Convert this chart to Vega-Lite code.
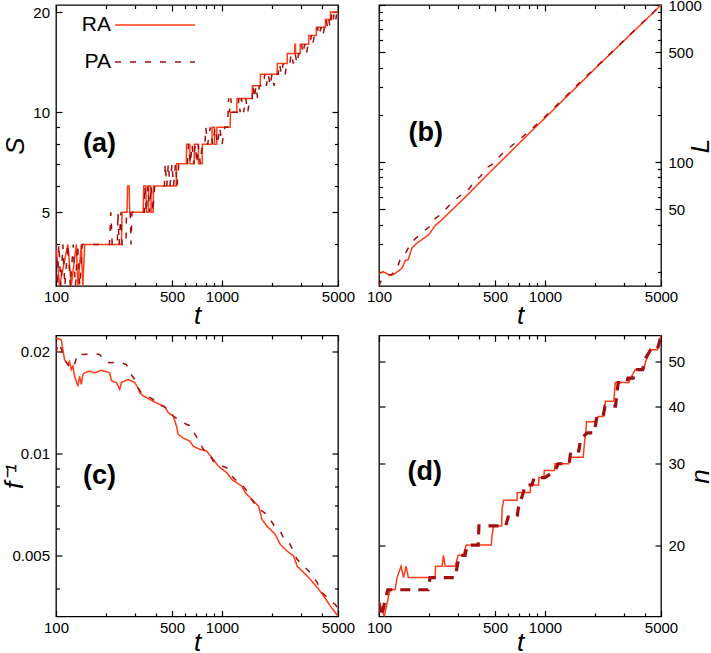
{
  "$schema": "https://vega.github.io/schema/vega-lite/v6.json",
  "background": "white",
  "padding": {"left": 0, "top": -3, "right": 0, "bottom": 0},
  "columns": 2,
  "spacing": {"row": 49.5, "column": 41},
  "bounds": "flush",
  "resolve": {"scale": {"x": "independent", "y": "independent", "color": "independent", "strokeDash": "independent", "strokeWidth": "independent"}, "legend": {"color": "independent", "strokeDash": "independent"}},
  "config": {
    "font": "Liberation Sans",
    "view": {"stroke": "black", "strokeWidth": 1.3},
    "axis": {"domain": false, "grid": false, "tickColor": "black", "tickWidth": 1.2, "labelColor": "black", "labelFontSize": 15, "labelFont": "Liberation Sans", "titleFont": "Liberation Sans", "titleFontSize": 26, "titleFontStyle": "italic", "titleFontWeight": "normal", "titleColor": "black", "labelFlush": false, "labelOverlap": false},
    "title": {"font": "Liberation Sans", "fontSize": 27, "fontWeight": "bold", "color": "black", "anchor": "start", "frame": "group", "offset": 0, "baseline": "middle"}
  },
  "datasets": {
    "a": [
      {"t":100,"v":4,"m":"RA"},{"t":105,"v":3,"m":"RA"},{"t":117.8,"v":4,"m":"RA"},{"t":123.6,"v":3,"m":"RA"},{"t":132.5,"v":4,"m":"RA"},{"t":135.5,"v":3,"m":"RA"},{"t":142,"v":4,"m":"RA"},{"t":145,"v":3,"m":"RA"},{"t":149,"v":4,"m":"RA"},{"t":248,"v":4,"m":"RA"},{"t":250,"v":5,"m":"RA"},{"t":268,"v":5,"m":"RA"},{"t":270,"v":6,"m":"RA"},{"t":276,"v":6,"m":"RA"},{"t":278,"v":5,"m":"RA"},{"t":335,"v":5,"m":"RA"},{"t":338,"v":6,"m":"RA"},{"t":348,"v":6,"m":"RA"},{"t":350,"v":5,"m":"RA"},{"t":360,"v":5,"m":"RA"},{"t":362,"v":6,"m":"RA"},{"t":372,"v":6,"m":"RA"},{"t":374,"v":5,"m":"RA"},{"t":385,"v":5,"m":"RA"},{"t":387,"v":6,"m":"RA"},{"t":530,"v":6,"m":"RA"},{"t":533,"v":7,"m":"RA"},{"t":610,"v":7,"m":"RA"},{"t":612,"v":8,"m":"RA"},{"t":640,"v":8,"m":"RA"},{"t":642,"v":7,"m":"RA"},{"t":680,"v":7,"m":"RA"},{"t":682,"v":8,"m":"RA"},{"t":720,"v":8,"m":"RA"},{"t":722,"v":7,"m":"RA"},{"t":760,"v":7,"m":"RA"},{"t":762,"v":8,"m":"RA"},{"t":870,"v":8,"m":"RA"},{"t":872,"v":9,"m":"RA"},{"t":900,"v":9,"m":"RA"},{"t":902,"v":8,"m":"RA"},{"t":930,"v":8,"m":"RA"},{"t":932,"v":9,"m":"RA"},{"t":1120,"v":9,"m":"RA"},{"t":1125,"v":10,"m":"RA"},{"t":1228,"v":10,"m":"RA"},{"t":1232,"v":11,"m":"RA"},{"t":1520,"v":11,"m":"RA"},{"t":1525,"v":12,"m":"RA"},{"t":1700,"v":12,"m":"RA"},{"t":1705,"v":13,"m":"RA"},{"t":2150,"v":13,"m":"RA"},{"t":2155,"v":14,"m":"RA"},{"t":2470,"v":14,"m":"RA"},{"t":2475,"v":15,"m":"RA"},{"t":2740,"v":15,"m":"RA"},{"t":2750,"v":16,"m":"RA"},{"t":2770,"v":16,"m":"RA"},{"t":2780,"v":15,"m":"RA"},{"t":2960,"v":15,"m":"RA"},{"t":2965,"v":16,"m":"RA"},{"t":3330,"v":16,"m":"RA"},{"t":3335,"v":17,"m":"RA"},{"t":3700,"v":17,"m":"RA"},{"t":3705,"v":18,"m":"RA"},{"t":4196,"v":18,"m":"RA"},{"t":4200,"v":19,"m":"RA"},{"t":4499,"v":19,"m":"RA"},{"t":4505,"v":20,"m":"RA"},{"t":5000,"v":20,"m":"RA"},
      {"t":100,"v":4,"m":"PA"},{"t":102,"v":3,"m":"PA"},{"t":104,"v":4,"m":"PA"},{"t":107,"v":3,"m":"PA"},{"t":110,"v":4,"m":"PA"},{"t":113,"v":3,"m":"PA"},{"t":118,"v":4,"m":"PA"},{"t":122,"v":3,"m":"PA"},{"t":127,"v":4,"m":"PA"},{"t":131,"v":3,"m":"PA"},{"t":135,"v":4,"m":"PA"},{"t":139,"v":3,"m":"PA"},{"t":144,"v":4,"m":"PA"},{"t":210,"v":4,"m":"PA"},{"t":214,"v":5,"m":"PA"},{"t":218,"v":4,"m":"PA"},{"t":234,"v":4,"m":"PA"},{"t":236,"v":5,"m":"PA"},{"t":240,"v":4,"m":"PA"},{"t":246,"v":5,"m":"PA"},{"t":250,"v":4,"m":"PA"},{"t":264,"v":4,"m":"PA"},{"t":266,"v":5,"m":"PA"},{"t":280,"v":5,"m":"PA"},{"t":283,"v":4,"m":"PA"},{"t":287,"v":5,"m":"PA"},{"t":340,"v":5,"m":"PA"},{"t":343,"v":6,"m":"PA"},{"t":350,"v":5,"m":"PA"},{"t":358,"v":6,"m":"PA"},{"t":366,"v":5,"m":"PA"},{"t":375,"v":6,"m":"PA"},{"t":383,"v":5,"m":"PA"},{"t":393,"v":6,"m":"PA"},{"t":450,"v":6,"m":"PA"},{"t":455,"v":7,"m":"PA"},{"t":465,"v":6,"m":"PA"},{"t":475,"v":7,"m":"PA"},{"t":486,"v":6,"m":"PA"},{"t":500,"v":7,"m":"PA"},{"t":511,"v":6,"m":"PA"},{"t":525,"v":7,"m":"PA"},{"t":536,"v":6,"m":"PA"},{"t":550,"v":7,"m":"PA"},{"t":620,"v":7,"m":"PA"},{"t":628,"v":8,"m":"PA"},{"t":645,"v":7,"m":"PA"},{"t":660,"v":8,"m":"PA"},{"t":676,"v":7,"m":"PA"},{"t":690,"v":8,"m":"PA"},{"t":706,"v":7,"m":"PA"},{"t":720,"v":8,"m":"PA"},{"t":740,"v":7,"m":"PA"},{"t":760,"v":8,"m":"PA"},{"t":790,"v":8,"m":"PA"},{"t":798,"v":9,"m":"PA"},{"t":820,"v":8,"m":"PA"},{"t":850,"v":9,"m":"PA"},{"t":880,"v":8,"m":"PA"},{"t":910,"v":9,"m":"PA"},{"t":940,"v":8,"m":"PA"},{"t":970,"v":9,"m":"PA"},{"t":1000,"v":8,"m":"PA"},{"t":1040,"v":9,"m":"PA"},{"t":1080,"v":9,"m":"PA"},{"t":1095,"v":11,"m":"PA"},{"t":1110,"v":10,"m":"PA"},{"t":1130,"v":11,"m":"PA"},{"t":1150,"v":10,"m":"PA"},{"t":1250,"v":10,"m":"PA"},{"t":1262,"v":11,"m":"PA"},{"t":1285,"v":10,"m":"PA"},{"t":1310,"v":11,"m":"PA"},{"t":1350,"v":10,"m":"PA"},{"t":1390,"v":11,"m":"PA"},{"t":1430,"v":10,"m":"PA"},{"t":1470,"v":11,"m":"PA"},{"t":1520,"v":11,"m":"PA"},{"t":1540,"v":12,"m":"PA"},{"t":1570,"v":11,"m":"PA"},{"t":1600,"v":12,"m":"PA"},{"t":1640,"v":11,"m":"PA"},{"t":1680,"v":12,"m":"PA"},{"t":1780,"v":12,"m":"PA"},{"t":1810,"v":13,"m":"PA"},{"t":1850,"v":12,"m":"PA"},{"t":1900,"v":13,"m":"PA"},{"t":1950,"v":12,"m":"PA"},{"t":2000,"v":13,"m":"PA"},{"t":2060,"v":12,"m":"PA"},{"t":2120,"v":13,"m":"PA"},{"t":2180,"v":13,"m":"PA"},{"t":2220,"v":14,"m":"PA"},{"t":2280,"v":13,"m":"PA"},{"t":2340,"v":14,"m":"PA"},{"t":2400,"v":13,"m":"PA"},{"t":2460,"v":14,"m":"PA"},{"t":2560,"v":14,"m":"PA"},{"t":2620,"v":15,"m":"PA"},{"t":2690,"v":14,"m":"PA"},{"t":2760,"v":15,"m":"PA"},{"t":2830,"v":14,"m":"PA"},{"t":2900,"v":15,"m":"PA"},{"t":2960,"v":15,"m":"PA"},{"t":3020,"v":16,"m":"PA"},{"t":3080,"v":15,"m":"PA"},{"t":3150,"v":16,"m":"PA"},{"t":3230,"v":15,"m":"PA"},{"t":3300,"v":16,"m":"PA"},{"t":3400,"v":16,"m":"PA"},{"t":3450,"v":17,"m":"PA"},{"t":3520,"v":16,"m":"PA"},{"t":3600,"v":17,"m":"PA"},{"t":3700,"v":17,"m":"PA"},{"t":3760,"v":18,"m":"PA"},{"t":3850,"v":17,"m":"PA"},{"t":3950,"v":18,"m":"PA"},{"t":4050,"v":17,"m":"PA"},{"t":4150,"v":18,"m":"PA"},{"t":4250,"v":19,"m":"PA"},{"t":4320,"v":18,"m":"PA"},{"t":4400,"v":19,"m":"PA"},{"t":4480,"v":18,"m":"PA"},{"t":4550,"v":19,"m":"PA"},{"t":4600,"v":20,"m":"PA"},{"t":4680,"v":19,"m":"PA"},{"t":4760,"v":20,"m":"PA"},{"t":4850,"v":19,"m":"PA"},{"t":4930,"v":20,"m":"PA"},{"t":5000,"v":20,"m":"PA"}
    ],
    "b": [
      {"t":100,"v":19.5,"m":"RA"},{"t":106,"v":20.1,"m":"RA"},{"t":114,"v":19.3,"m":"RA"},{"t":119,"v":19.0,"m":"RA"},{"t":126,"v":19.7,"m":"RA"},{"t":134,"v":20.7,"m":"RA"},{"t":138,"v":21.3,"m":"RA"},{"t":144,"v":23.7,"m":"RA"},{"t":150,"v":24,"m":"RA"},{"t":158,"v":28.5,"m":"RA"},{"t":169,"v":30.5,"m":"RA"},{"t":199,"v":34.5,"m":"RA"},{"t":218,"v":39.5,"m":"RA"},{"t":239,"v":43,"m":"RA"},{"t":288,"v":52,"m":"RA"},{"t":347,"v":63,"m":"RA"},{"t":418,"v":77,"m":"RA"},{"t":500,"v":93,"m":"RA"},{"t":634,"v":119,"m":"RA"},{"t":800,"v":152,"m":"RA"},{"t":1000,"v":191,"m":"RA"},{"t":1300,"v":251,"m":"RA"},{"t":1600,"v":311,"m":"RA"},{"t":2000,"v":393,"m":"RA"},{"t":2500,"v":493,"m":"RA"},{"t":3000,"v":593,"m":"RA"},{"t":3500,"v":695,"m":"RA"},{"t":4000,"v":795,"m":"RA"},{"t":4500,"v":897,"m":"RA"},{"t":5000,"v":1000,"m":"RA"},
      {"t":100,"v":16.3,"m":"PA"},{"t":101.4,"v":17.1,"m":"PA"},{"t":106,"v":18.4,"m":"PA"},{"t":113,"v":19.2,"m":"PA"},{"t":119,"v":19.3,"m":"PA"},{"t":128,"v":20.7,"m":"PA"},{"t":134,"v":24,"m":"PA"},{"t":144,"v":26.2,"m":"PA"},{"t":154,"v":29.9,"m":"PA"},{"t":165,"v":32.5,"m":"PA"},{"t":185,"v":36.3,"m":"PA"},{"t":203,"v":39.1,"m":"PA"},{"t":218,"v":43.8,"m":"PA"},{"t":239,"v":47,"m":"PA"},{"t":262,"v":52.5,"m":"PA"},{"t":281,"v":56.5,"m":"PA"},{"t":316,"v":62.5,"m":"PA"},{"t":339,"v":65.3,"m":"PA"},{"t":381,"v":76.5,"m":"PA"},{"t":408,"v":81,"m":"PA"},{"t":447,"v":92.5,"m":"PA"},{"t":480,"v":96.7,"m":"PA"},{"t":538,"v":110,"m":"PA"},{"t":565,"v":116,"m":"PA"},{"t":700,"v":139,"m":"PA"},{"t":850,"v":166,"m":"PA"},{"t":1000,"v":195,"m":"PA"},{"t":1300,"v":255,"m":"PA"},{"t":1600,"v":318,"m":"PA"},{"t":2000,"v":397,"m":"PA"},{"t":2500,"v":497,"m":"PA"},{"t":3000,"v":597,"m":"PA"},{"t":4000,"v":798,"m":"PA"},{"t":5000,"v":1000,"m":"PA"}
    ],
    "c": [
      {"t":100,"v":0.0219,"m":"RA"},{"t":107.5,"v":0.0217,"m":"RA"},{"t":112.6,"v":0.0189,"m":"RA"},{"t":117.9,"v":0.0183,"m":"RA"},{"t":120.6,"v":0.0187,"m":"RA"},{"t":123.6,"v":0.0177,"m":"RA"},{"t":126.4,"v":0.0181,"m":"RA"},{"t":129.4,"v":0.0169,"m":"RA"},{"t":135.5,"v":0.0158,"m":"RA"},{"t":138.7,"v":0.0169,"m":"RA"},{"t":142,"v":0.016,"m":"RA"},{"t":145.2,"v":0.0171,"m":"RA"},{"t":148.7,"v":0.0173,"m":"RA"},{"t":159.4,"v":0.0175,"m":"RA"},{"t":170.9,"v":0.0173,"m":"RA"},{"t":187.6,"v":0.0176,"m":"RA"},{"t":196.4,"v":0.0175,"m":"RA"},{"t":210.6,"v":0.0173,"m":"RA"},{"t":215.7,"v":0.0164,"m":"RA"},{"t":231.2,"v":0.0162,"m":"RA"},{"t":242,"v":0.01545,"m":"RA"},{"t":247.9,"v":0.0162,"m":"RA"},{"t":271.7,"v":0.01654,"m":"RA"},{"t":298.2,"v":0.0162,"m":"RA"},{"t":312.3,"v":0.0156,"m":"RA"},{"t":319.7,"v":0.0151,"m":"RA"},{"t":334.8,"v":0.0148,"m":"RA"},{"t":367.5,"v":0.01444,"m":"RA"},{"t":403.5,"v":0.0141,"m":"RA"},{"t":452.8,"v":0.01374,"m":"RA"},{"t":474.2,"v":0.0132,"m":"RA"},{"t":508.5,"v":0.0129,"m":"RA"},{"t":533,"v":0.012,"m":"RA"},{"t":545,"v":0.01138,"m":"RA"},{"t":584,"v":0.0111,"m":"RA"},{"t":641,"v":0.01087,"m":"RA"},{"t":671.5,"v":0.0105,"m":"RA"},{"t":737,"v":0.01028,"m":"RA"},{"t":809,"v":0.01016,"m":"RA"},{"t":887,"v":0.0096,"m":"RA"},{"t":951,"v":0.00917,"m":"RA"},{"t":1069,"v":0.00877,"m":"RA"},{"t":1146,"v":0.00838,"m":"RA"},{"t":1317,"v":0.00801,"m":"RA"},{"t":1378,"v":0.00766,"m":"RA"},{"t":1515,"v":0.00732,"m":"RA"},{"t":1660,"v":0.00699,"m":"RA"},{"t":1740,"v":0.00639,"m":"RA"},{"t":1866,"v":0.0061,"m":"RA"},{"t":2093,"v":0.00577,"m":"RA"},{"t":2243,"v":0.00539,"m":"RA"},{"t":2465,"v":0.00515,"m":"RA"},{"t":2702,"v":0.00498,"m":"RA"},{"t":2833,"v":0.00465,"m":"RA"},{"t":3105,"v":0.00445,"m":"RA"},{"t":3406,"v":0.00425,"m":"RA"},{"t":3827,"v":0.00397,"m":"RA"},{"t":4104,"v":0.00379,"m":"RA"},{"t":4499,"v":0.00354,"m":"RA"},{"t":5000,"v":0.00331,"m":"RA"},
      {"t":100,"v":0.0198,"m":"PA"},{"t":103,"v":0.0212,"m":"PA"},{"t":107,"v":0.0205,"m":"PA"},{"t":112,"v":0.019,"m":"PA"},{"t":118,"v":0.0183,"m":"PA"},{"t":124,"v":0.0178,"m":"PA"},{"t":130,"v":0.0185,"m":"PA"},{"t":135.5,"v":0.01973,"m":"PA"},{"t":145.2,"v":0.0196,"m":"PA"},{"t":170.9,"v":0.0197,"m":"PA"},{"t":183.2,"v":0.0196,"m":"PA"},{"t":196.4,"v":0.01873,"m":"PA"},{"t":210.6,"v":0.01852,"m":"PA"},{"t":242,"v":0.0186,"m":"PA"},{"t":265.7,"v":0.0183,"m":"PA"},{"t":278.2,"v":0.0173,"m":"PA"},{"t":298.2,"v":0.01654,"m":"PA"},{"t":312.3,"v":0.0156,"m":"PA"},{"t":327.4,"v":0.0151,"m":"PA"},{"t":384.8,"v":0.01444,"m":"PA"},{"t":403.5,"v":0.01396,"m":"PA"},{"t":442.2,"v":0.0138,"m":"PA"},{"t":474.2,"v":0.01349,"m":"PA"},{"t":508.5,"v":0.0129,"m":"PA"},{"t":545,"v":0.0126,"m":"PA"},{"t":612.9,"v":0.01218,"m":"PA"},{"t":656.9,"v":0.01204,"m":"PA"},{"t":687.4,"v":0.01138,"m":"PA"},{"t":720,"v":0.011,"m":"PA"},{"t":772,"v":0.01028,"m":"PA"},{"t":827.7,"v":0.01005,"m":"PA"},{"t":887,"v":0.00949,"m":"PA"},{"t":951,"v":0.00928,"m":"PA"},{"t":1069,"v":0.00907,"m":"PA"},{"t":1119,"v":0.00867,"m":"PA"},{"t":1229,"v":0.00829,"m":"PA"},{"t":1317,"v":0.0081,"m":"PA"},{"t":1413,"v":0.00774,"m":"PA"},{"t":1478,"v":0.0074,"m":"PA"},{"t":1584,"v":0.00707,"m":"PA"},{"t":1698,"v":0.00683,"m":"PA"},{"t":1866,"v":0.0066,"m":"PA"},{"t":1952,"v":0.00639,"m":"PA"},{"t":2093,"v":0.00604,"m":"PA"},{"t":2243,"v":0.0059,"m":"PA"},{"t":2405,"v":0.00551,"m":"PA"},{"t":2579,"v":0.00539,"m":"PA"},{"t":2702,"v":0.0051,"m":"PA"},{"t":2833,"v":0.00487,"m":"PA"},{"t":3105,"v":0.00465,"m":"PA"},{"t":3330,"v":0.0045,"m":"PA"},{"t":3570,"v":0.0043,"m":"PA"},{"t":3743,"v":0.00416,"m":"PA"},{"t":3914,"v":0.00392,"m":"PA"},{"t":4104,"v":0.00384,"m":"PA"},{"t":4499,"v":0.00367,"m":"PA"},{"t":4823,"v":0.00358,"m":"PA"},{"t":5000,"v":0.00347,"m":"PA"}
    ],
    "d": [
      {"t":100,"v":15,"m":"RA"},{"t":107.6,"v":14,"m":"RA"},{"t":116.5,"v":16,"m":"RA"},{"t":124.9,"v":16,"m":"RA"},{"t":128.5,"v":17,"m":"RA"},{"t":135.8,"v":18,"m":"RA"},{"t":140.6,"v":17,"m":"RA"},{"t":145.5,"v":18,"m":"RA"},{"t":150.3,"v":17,"m":"RA"},{"t":217.8,"v":17,"m":"RA"},{"t":219.4,"v":18,"m":"RA"},{"t":240.2,"v":18,"m":"RA"},{"t":244.6,"v":19,"m":"RA"},{"t":250.4,"v":18,"m":"RA"},{"t":287.7,"v":18,"m":"RA"},{"t":300,"v":19,"m":"RA"},{"t":321.6,"v":19,"m":"RA"},{"t":335.2,"v":20,"m":"RA"},{"t":475,"v":20,"m":"RA"},{"t":480,"v":21,"m":"RA"},{"t":490,"v":22,"m":"RA"},{"t":548,"v":22,"m":"RA"},{"t":552,"v":24,"m":"RA"},{"t":563,"v":25,"m":"RA"},{"t":679,"v":25,"m":"RA"},{"t":681,"v":26,"m":"RA"},{"t":816,"v":26,"m":"RA"},{"t":820,"v":27,"m":"RA"},{"t":916,"v":27,"m":"RA"},{"t":920,"v":28,"m":"RA"},{"t":985,"v":28,"m":"RA"},{"t":990,"v":29,"m":"RA"},{"t":1140,"v":29,"m":"RA"},{"t":1150,"v":30,"m":"RA"},{"t":1390,"v":30,"m":"RA"},{"t":1410,"v":31,"m":"RA"},{"t":1700,"v":31,"m":"RA"},{"t":1712,"v":32,"m":"RA"},{"t":1740,"v":34,"m":"RA"},{"t":1760,"v":35,"m":"RA"},{"t":1780,"v":37,"m":"RA"},{"t":2050,"v":37,"m":"RA"},{"t":2090,"v":38,"m":"RA"},{"t":2240,"v":38,"m":"RA"},{"t":2315,"v":41,"m":"RA"},{"t":2600,"v":41,"m":"RA"},{"t":2650,"v":45,"m":"RA"},{"t":3200,"v":45,"m":"RA"},{"t":3280,"v":46,"m":"RA"},{"t":3500,"v":48,"m":"RA"},{"t":3945,"v":48,"m":"RA"},{"t":4040,"v":50,"m":"RA"},{"t":4332,"v":53,"m":"RA"},{"t":4750,"v":53,"m":"RA"},{"t":5000,"v":57,"m":"RA"},
      {"t":100,"v":15,"m":"PA"},{"t":103.8,"v":14,"m":"PA"},{"t":108,"v":15,"m":"PA"},{"t":113,"v":16,"m":"PA"},{"t":198,"v":16,"m":"PA"},{"t":203,"v":17,"m":"PA"},{"t":288,"v":17,"m":"PA"},{"t":296,"v":18,"m":"PA"},{"t":305,"v":19,"m":"PA"},{"t":330,"v":19,"m":"PA"},{"t":340,"v":20,"m":"PA"},{"t":396,"v":20,"m":"PA"},{"t":400,"v":22,"m":"PA"},{"t":580,"v":22,"m":"PA"},{"t":600,"v":23,"m":"PA"},{"t":680,"v":23,"m":"PA"},{"t":690,"v":24,"m":"PA"},{"t":715,"v":25,"m":"PA"},{"t":740,"v":26,"m":"PA"},{"t":760,"v":27,"m":"PA"},{"t":836,"v":27,"m":"PA"},{"t":860,"v":28,"m":"PA"},{"t":1000,"v":28,"m":"PA"},{"t":1150,"v":29,"m":"PA"},{"t":1200,"v":30,"m":"PA"},{"t":1400,"v":30,"m":"PA"},{"t":1430,"v":32,"m":"PA"},{"t":1600,"v":32,"m":"PA"},{"t":1640,"v":34,"m":"PA"},{"t":1800,"v":35,"m":"PA"},{"t":1985,"v":35,"m":"PA"},{"t":2050,"v":38,"m":"PA"},{"t":2240,"v":38,"m":"PA"},{"t":2300,"v":40,"m":"PA"},{"t":2660,"v":40,"m":"PA"},{"t":2760,"v":45,"m":"PA"},{"t":3110,"v":45,"m":"PA"},{"t":3160,"v":46,"m":"PA"},{"t":3400,"v":46,"m":"PA"},{"t":3500,"v":48,"m":"PA"},{"t":3870,"v":48,"m":"PA"},{"t":3980,"v":50,"m":"PA"},{"t":4060,"v":51,"m":"PA"},{"t":4330,"v":53,"m":"PA"},{"t":4750,"v":53,"m":"PA"},{"t":4950,"v":56,"m":"PA"},{"t":5000,"v":57,"m":"PA"}
    ]
  },
  "concat": [
    {
      "width": 282, "height": 281,
      "title": {"text": "(a)", "dx": 27, "dy": 157.5},
      "data": {"name": "a"},
      "layer": [
        {
          "mark": {"type": "line", "clip": true, "strokeWidth": 1.5},
          "encoding": {
            "x": {"field": "t", "type": "quantitative", "scale": {"type": "log", "domain": [100, 5000], "nice": false},
              "axis": {"orient": "bottom", "values": [100,200,300,400,500,600,700,800,900,1000,2000,3000,4000,5000], "format": "d", "labelExpr": "indexof([100,500,1000,5000], datum.value) >= 0 ? datum.label : ''", "tickSize": {"condition": {"test": "indexof([100,500,1000,5000], datum.value) >= 0", "value": -6}, "value": -3.5}, "labelPadding": 9.5, "title": "t", "titleY": 37, "titleBaseline": "alphabetic"}},
            "y": {"field": "v", "type": "quantitative", "scale": {"type": "log", "domain": [3, 21], "nice": false},
              "axis": {"orient": "left", "values": [4,5,6,7,8,9,10,20], "format": "d", "labelExpr": "indexof([5,10,20], datum.value) >= 0 ? datum.label : ''", "tickSize": {"condition": {"test": "indexof([5,10,20], datum.value) >= 0", "value": -6}, "value": -3.5}, "labelPadding": 12.5, "title": "S", "titleX": -33, "titleY": 140.5, "titleAngle": -90, "titleAlign": "center", "titleBaseline": "alphabetic"}},
            "color": {"field": "m", "type": "nominal", "scale": {"domain": ["RA", "PA"], "range": ["#ff3c14", "#a10e10"]},
              "legend": {"orient": "none", "legendX": 58, "legendY": -1, "title": null, "symbolType": "M-1,0H3", "symbolSize": 1600, "symbolStrokeWidth": 1.6, "labelAlign": "right", "labelOffset": -45, "labelFontSize": 21, "labelColor": "black", "rowPadding": 6, "padding": 0}},
            "strokeDash": {"field": "m", "type": "nominal", "scale": {"domain": ["RA", "PA"], "range": [[1, 0], [6, 9]]},
              "legend": {"orient": "none", "legendX": 58, "legendY": -1, "title": null, "symbolType": "M-1,0H3", "symbolSize": 1600, "symbolStrokeWidth": 1.6, "labelAlign": "right", "labelOffset": -45, "labelFontSize": 21, "labelColor": "black", "rowPadding": 6, "padding": 0}}
          }
        },
        {
          "mark": {"type": "line", "opacity": 0, "clip": true},
          "encoding": {
            "x": {"field": "t", "type": "quantitative", "scale": {"type": "log", "domain": [100, 5000], "nice": false},
              "axis": {"orient": "top", "values": [100,200,300,400,500,600,700,800,900,1000,2000,3000,4000,5000], "labels": false, "tickSize": {"condition": {"test": "indexof([100,500,1000,5000], datum.value) >= 0", "value": -6}, "value": -3.5}, "title": null}},
            "y": {"field": "v", "type": "quantitative", "scale": {"type": "log", "domain": [3, 21], "nice": false},
              "axis": {"orient": "right", "values": [4,5,6,7,8,9,10,20], "labels": false, "tickSize": {"condition": {"test": "indexof([5,10,20], datum.value) >= 0", "value": -6}, "value": -3.5}, "title": null}},
            "detail": {"field": "m"}
          }
        }
      ],
      "resolve": {"axis": {"x": "independent", "y": "independent"}}
    },
    {
      "width": 282, "height": 281,
      "title": {"text": "(b)", "dx": 29.5, "dy": 153},
      "data": {"name": "b"},
      "layer": [
        {
          "mark": {"type": "line", "clip": true, "strokeWidth": 1.5},
          "encoding": {
            "x": {"field": "t", "type": "quantitative", "scale": {"type": "log", "domain": [100, 5000], "nice": false},
              "axis": {"orient": "bottom", "values": [100,200,300,400,500,600,700,800,900,1000,2000,3000,4000,5000], "format": "d", "labelExpr": "indexof([100,500,1000,5000], datum.value) >= 0 ? datum.label : ''", "tickSize": {"condition": {"test": "indexof([100,500,1000,5000], datum.value) >= 0", "value": -6}, "value": -3.5}, "labelPadding": 9.5, "title": "t", "titleY": 37, "titleBaseline": "alphabetic"}},
            "y": {"field": "v", "type": "quantitative", "scale": {"type": "log", "domain": [16.3, 1000], "nice": false},
              "axis": {"orient": "left", "values": [20,30,40,50,60,70,80,90,100,200,300,400,500,600,700,800,900,1000], "labels": false, "tickSize": {"condition": {"test": "indexof([50,100,500,1000], datum.value) >= 0", "value": -6}, "value": -3.5}, "title": null}},
            "color": {"field": "m", "type": "nominal", "scale": {"domain": ["RA", "PA"], "range": ["#ff3c14", "#a10e10"]}, "legend": null},
            "strokeDash": {"field": "m", "type": "nominal", "scale": {"domain": ["RA", "PA"], "range": [[1, 0], [6, 9]]}, "legend": null}
          }
        },
        {
          "mark": {"type": "line", "opacity": 0, "clip": true},
          "encoding": {
            "x": {"field": "t", "type": "quantitative", "scale": {"type": "log", "domain": [100, 5000], "nice": false},
              "axis": {"orient": "top", "values": [100,200,300,400,500,600,700,800,900,1000,2000,3000,4000,5000], "labels": false, "tickSize": {"condition": {"test": "indexof([100,500,1000,5000], datum.value) >= 0", "value": -6}, "value": -3.5}, "title": null}},
            "y": {"field": "v", "type": "quantitative", "scale": {"type": "log", "domain": [16.3, 1000], "nice": false},
              "axis": {"orient": "right", "values": [20,30,40,50,60,70,80,90,100,200,300,400,500,600,700,800,900,1000], "format": "d", "labelExpr": "indexof([50,100,500,1000], datum.value) >= 0 ? datum.label : ''", "tickSize": {"condition": {"test": "indexof([50,100,500,1000], datum.value) >= 0", "value": -6}, "value": -3.5}, "labelPadding": 13, "title": "L", "titleX": 47, "titleY": 140.5, "titleAngle": -90, "titleAlign": "center", "titleBaseline": "alphabetic"}},
            "detail": {"field": "m"}
          }
        }
      ],
      "resolve": {"axis": {"x": "independent", "y": "independent"}}
    },
    {
      "width": 282, "height": 281,
      "title": {"text": "(c)", "dx": 27, "dy": 159.5},
      "data": {"name": "c"},
      "layer": [
        {
          "mark": {"type": "line", "clip": true, "strokeWidth": 1.5},
          "encoding": {
            "x": {"field": "t", "type": "quantitative", "scale": {"type": "log", "domain": [100, 5000], "nice": false},
              "axis": {"orient": "bottom", "values": [100,200,300,400,500,600,700,800,900,1000,2000,3000,4000,5000], "format": "d", "labelExpr": "indexof([100,500,1000,5000], datum.value) >= 0 ? datum.label : ''", "tickSize": {"condition": {"test": "indexof([100,500,1000,5000], datum.value) >= 0", "value": -6}, "value": -3.5}, "labelPadding": 9.5, "title": "t", "titleY": 34, "titleBaseline": "alphabetic"}},
            "y": {"field": "v", "type": "quantitative", "scale": {"type": "log", "domain": [0.0033, 0.0223], "nice": false},
              "axis": {"orient": "left", "values": [0.004,0.005,0.006,0.007,0.008,0.009,0.01,0.02], "format": "~g", "labelExpr": "indexof([0.005,0.01,0.02], datum.value) >= 0 ? datum.label : ''", "tickSize": {"condition": {"test": "indexof([0.005,0.01,0.02], datum.value) >= 0", "value": -6}, "value": -3.5}, "labelPadding": 12.5, "title": "f⁻¹", "titleX": -34, "titleY": 140.5, "titleAngle": -90, "titleAlign": "center", "titleBaseline": "alphabetic"}},
            "color": {"field": "m", "type": "nominal", "scale": {"domain": ["RA", "PA"], "range": ["#ff3c14", "#a10e10"]}, "legend": null},
            "strokeDash": {"field": "m", "type": "nominal", "scale": {"domain": ["RA", "PA"], "range": [[1, 0], [6, 9]]}, "legend": null}
          }
        },
        {
          "mark": {"type": "line", "opacity": 0, "clip": true},
          "encoding": {
            "x": {"field": "t", "type": "quantitative", "scale": {"type": "log", "domain": [100, 5000], "nice": false},
              "axis": {"orient": "top", "values": [100,200,300,400,500,600,700,800,900,1000,2000,3000,4000,5000], "labels": false, "tickSize": {"condition": {"test": "indexof([100,500,1000,5000], datum.value) >= 0", "value": -6}, "value": -3.5}, "title": null}},
            "y": {"field": "v", "type": "quantitative", "scale": {"type": "log", "domain": [0.0033, 0.0223], "nice": false},
              "axis": {"orient": "right", "values": [0.004,0.005,0.006,0.007,0.008,0.009,0.01,0.02], "labels": false, "tickSize": {"condition": {"test": "indexof([0.005,0.01,0.02], datum.value) >= 0", "value": -6}, "value": -3.5}, "title": null}},
            "detail": {"field": "m"}
          }
        }
      ],
      "resolve": {"axis": {"x": "independent", "y": "independent"}}
    },
    {
      "width": 282, "height": 281,
      "title": {"text": "(d)", "dx": 28.5, "dy": 155.5},
      "data": {"name": "d"},
      "layer": [
        {
          "mark": {"type": "line", "clip": true},
          "encoding": {
            "x": {"field": "t", "type": "quantitative", "scale": {"type": "log", "domain": [100, 5000], "nice": false},
              "axis": {"orient": "bottom", "values": [100,200,300,400,500,600,700,800,900,1000,2000,3000,4000,5000], "format": "d", "labelExpr": "indexof([100,500,1000,5000], datum.value) >= 0 ? datum.label : ''", "tickSize": {"condition": {"test": "indexof([100,500,1000,5000], datum.value) >= 0", "value": -6}, "value": -3.5}, "labelPadding": 9.5, "title": "t", "titleY": 34, "titleBaseline": "alphabetic"}},
            "y": {"field": "v", "type": "quantitative", "scale": {"type": "log", "domain": [14, 56.9], "nice": false},
              "axis": {"orient": "left", "values": [20,30,40,50], "labels": false, "tickSize": -6, "title": null}},
            "color": {"field": "m", "type": "nominal", "scale": {"domain": ["RA", "PA"], "range": ["#ff3c14", "#a10e10"]}, "legend": null},
            "strokeDash": {"field": "m", "type": "nominal", "scale": {"domain": ["RA", "PA"], "range": [[1, 0], [10, 8]]}, "legend": null},
            "strokeWidth": {"field": "m", "type": "nominal", "scale": {"domain": ["RA", "PA"], "range": [1.5, 3.2]}, "legend": null}
          }
        },
        {
          "mark": {"type": "line", "opacity": 0, "clip": true},
          "encoding": {
            "x": {"field": "t", "type": "quantitative", "scale": {"type": "log", "domain": [100, 5000], "nice": false},
              "axis": {"orient": "top", "values": [100,200,300,400,500,600,700,800,900,1000,2000,3000,4000,5000], "labels": false, "tickSize": {"condition": {"test": "indexof([100,500,1000,5000], datum.value) >= 0", "value": -6}, "value": -3.5}, "title": null}},
            "y": {"field": "v", "type": "quantitative", "scale": {"type": "log", "domain": [14, 56.9], "nice": false},
              "axis": {"orient": "right", "values": [20,30,40,50], "format": "d", "tickSize": -6, "labelPadding": 13, "title": "n", "titleX": 47, "titleY": 140.5, "titleAngle": -90, "titleAlign": "center", "titleBaseline": "alphabetic"}},
            "detail": {"field": "m"}
          }
        }
      ],
      "resolve": {"axis": {"x": "independent", "y": "independent"}}
    }
  ]
}
